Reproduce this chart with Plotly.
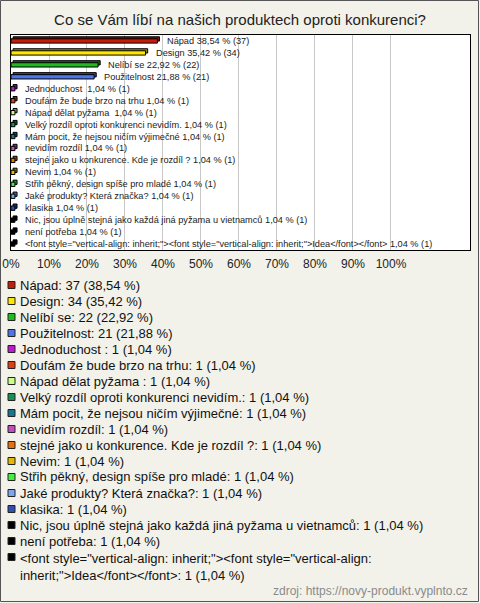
import plotly.graph_objects as go

title_text = "Co se Vám líbí na našich produktech oproti konkurenci?"
categories = [
    "Nápad",
    "Design",
    "Nelíbí se",
    "Použitelnost",
    "Jednoduchost ",
    "Doufám že bude brzo na trhu",
    "Nápad dělat pyžama ",
    "Velký rozdíl oproti konkurenci nevidím.",
    "Mám pocit, že nejsou ničím výjimečné",
    "nevidím rozdíl",
    "stejné jako u konkurence. Kde je rozdíl ?",
    "Nevim",
    "Střih pěkný, design spíše pro mladé",
    "Jaké produkty? Která značka?",
    "klasika",
    "Nic, jsou úplně stejná jako každá jiná pyžama u vietnamců",
    "není potřeba",
    "<font style=\"vertical-align: inherit;\"><font style=\"vertical-align: inherit;\">Idea</font></font>",
]
counts = [37, 34, 22, 21, 1, 1, 1, 1, 1, 1, 1, 1, 1, 1, 1, 1, 1, 1]
percents = [38.54, 35.42, 22.92, 21.88, 1.04, 1.04, 1.04, 1.04, 1.04, 1.04,
            1.04, 1.04, 1.04, 1.04, 1.04, 1.04, 1.04, 1.04]
colors = ["#c41e0a", "#ffe600", "#1fbb1f", "#4f74e8", "#c01ad0", "#e04010",
          "#ccff88", "#189055", "#1a7590", "#c050c0", "#e87010", "#e8b800",
          "#44ee44", "#7aa8ee", "#3050b0", "#000000", "#000000", "#000000"]
tick_values = [0, 10, 20, 30, 40, 50, 60, 70, 80, 90, 100]
tick_labels = ["0%", "10%", "20%", "30%", "40%", "50%", "60%", "70%", "80%", "90%", "100%"]
source_text = "zdroj: https://novy-produkt.vyplnto.cz"

W, H = 480, 603


def px(x):
    return x / W


def py(y):
    return 1 - y / H


def fmt(p):
    return f"{p:.2f}".replace(".", ",")


def esc(s):
    return s.replace("<", "&lt;").replace(">", "&gt;")


def darker(hexc, f=0.6):
    h = hexc.lstrip("#")
    r, g, b = int(h[0:2], 16), int(h[2:4], 16), int(h[4:6], 16)
    return "#%02x%02x%02x" % (int(r * f), int(g * f), int(b * f))


n = len(categories)
ypos = list(range(n))
bw = 0.36

fig = go.Figure()
# back (3D) face
fig.add_bar(y=ypos, x=percents, base=0.55, orientation="h", width=bw,
            offset=-bw / 2 - 0.17,
            marker=dict(color=[darker(c) for c in colors],
                        line=dict(color="black", width=1)),
            hoverinfo="skip", showlegend=False)
# front face
fig.add_bar(y=ypos, x=percents, orientation="h", width=bw, offset=-bw / 2,
            marker=dict(color=colors, line=dict(color="black", width=1)),
            showlegend=False)

annotations = []
for i, (c, p, k) in enumerate(zip(categories, percents, counts)):
    annotations.append(dict(
        x=p, y=i, xref="x", yref="y", xanchor="left", yanchor="middle",
        xshift=8, showarrow=False,
        text=esc(f"{c} {fmt(p)} % ({k})"),
        font=dict(family="Liberation Sans, Arial", size=9.2, color="#222222")))

# legend (custom)
shapes = []
leg_top = 285
leg_step = 16
for i, (c, p, k, col) in enumerate(zip(categories, percents, counts, colors)):
    yc = leg_top + i * leg_step
    shapes.append(dict(type="rect", xref="paper", yref="paper",
                       x0=px(8), x1=px(15), y0=py(yc - 3.5), y1=py(yc + 3.5),
                       fillcolor=col, line=dict(color="#222222", width=1)))
    full = esc(f"{c}: {k} ({fmt(p)} %)")
    if i == n - 1:
        split_at = full.find("inherit;\"&gt;Idea")
        txt = full[:split_at] + "<br>" + full[split_at:]
        annotations.append(dict(
            x=px(18), y=py(yc - 8), xref="paper", yref="paper",
            xanchor="left", yanchor="top", align="left", showarrow=False,
            text=txt, font=dict(size=13, color="#111111")))
    else:
        annotations.append(dict(
            x=px(18), y=py(yc), xref="paper", yref="paper",
            xanchor="left", yanchor="middle", showarrow=False,
            text=full, font=dict(size=13, color="#111111")))

annotations.append(dict(
    x=px(470), y=py(591), xref="paper", yref="paper", xanchor="right",
    yanchor="middle", showarrow=False, text=source_text,
    font=dict(size=12, color="#8a8a8a")))

shapes.append(dict(type="rect", xref="paper", yref="paper",
                   x0=px(0.5), x1=px(478.5), y0=py(601.5), y1=py(0.5),
                   line=dict(color="#555555", width=1)))

fig.update_layout(
    width=W, height=H, autosize=False,
    margin=dict(l=0, r=0, t=0, b=0, pad=0, autoexpand=False),
    paper_bgcolor="#f3f2ea", plot_bgcolor="white",
    barmode="overlay", showlegend=False,
    font=dict(family="Liberation Sans, Arial", color="#222222"),
    title=dict(text=title_text, x=0.5, xanchor="center", xref="paper",
               y=py(20), yanchor="middle", yref="paper",
               font=dict(size=15, color="#222222")),
    xaxis=dict(domain=[px(11), px(470)], range=[0, 120.8],
               tickvals=tick_values, ticktext=tick_labels,
               showgrid=True, gridcolor="#c8c8c8", gridwidth=1,
               showline=True, linecolor="black", linewidth=1, mirror=True,
               zeroline=False, ticks="outside", ticklen=3,
               tickcolor="rgba(0,0,0,0)", tickfont=dict(size=12),
               automargin=False),
    yaxis=dict(domain=[py(250), py(35)], range=[n - 0.5, -0.5],
               showticklabels=False, showgrid=False,
               showline=True, linecolor="black", linewidth=1, mirror=True,
               zeroline=False, automargin=False),
    annotations=annotations, shapes=shapes,
)

post = (
    "document.documentElement.style.margin='0';"
    "document.documentElement.style.overflow='hidden';"
    "document.body.style.margin='0';"
    "document.body.style.padding='0';"
    "document.body.style.overflow='hidden';"
    "var gd=document.getElementById('{plot_id}');"
    "Plotly.relayout(gd,{width:480,height:603});"
)

fig.write_html("out.html",
               config={"displayModeBar": False, "responsive": False},
               post_script=post)
